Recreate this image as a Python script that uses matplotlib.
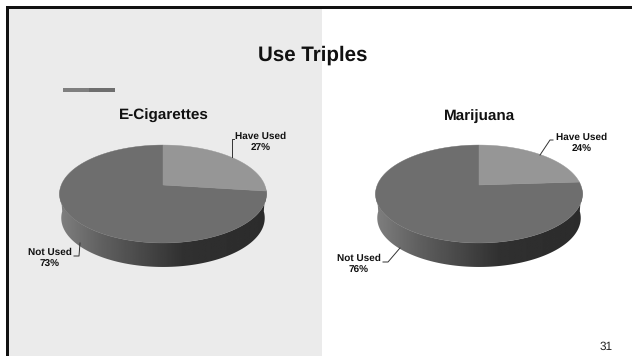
import numpy as np
import matplotlib
matplotlib.use('Agg')
import matplotlib.pyplot as plt
from matplotlib.patches import Polygon, Rectangle

title = 'Use Triples'
page_number = '31'
pie_titles = ['E-Cigarettes', 'Marijuana']
categories = ['Have Used', 'Not Used']
ecig_values = [27, 73]
marijuana_values = [24, 76]

W, H = 632, 356
TILT = 0.184   # fake perspective of the 3d pie


def project(theta, cx, cy=185, a=101.7, b=47.3, drop=0):
    # theta is clockwise from 12 o'clock
    u, v = np.sin(theta), np.cos(theta)
    scale = 1 + TILT * v
    return cx + a * u / scale, cy - b * v / scale + drop


def draw_pie(ax, values, cx, name, have_line, not_line, have_xy, not_xy):
    # side wall, shaded left to right
    t = np.linspace(np.pi / 2 + 0.05, 3 * np.pi / 2 - 0.05, 200)
    x1, y1 = project(t, cx)
    x2, y2 = project(t[::-1], cx, a=100, drop=24)
    wall = Polygon(np.column_stack([np.r_[x1, x2], np.r_[y1, y2]]), closed=True,
                   facecolor='none', edgecolor='none')
    ax.add_patch(wall)
    shade = np.interp(np.linspace(0, 1, 256), [0, 0.2, 0.6, 1], [0.50, 0.38, 0.19, 0.17])
    im = ax.imshow(shade[None, :], cmap='gray', vmin=0, vmax=1, aspect='auto',
                   extent=(cx - 104, cx + 104, 270, 185), zorder=2)
    im.set_clip_path(wall)

    # top faces
    have_end = 2 * np.pi * values[0] / sum(values)
    t = np.linspace(have_end, 2 * np.pi, 300)
    x, y = project(t, cx)
    ax.add_patch(Polygon(np.column_stack([np.r_[cx, x], np.r_[185, y]]), closed=True,
                         facecolor='#6e6e6e', edgecolor='#6e6e6e', lw=0.3, zorder=3))
    t = np.linspace(0, have_end, 120)
    x, y = project(t, cx)
    ax.add_patch(Polygon(np.column_stack([np.r_[cx, x], np.r_[185, y]]), closed=True,
                         facecolor='#969696', edgecolor='#969696', lw=0.3, zorder=3))

    ax.text(cx + 1, 116, name, ha='center', va='center', fontsize=11, fontweight='bold', color='#111111')

    # labels and leader lines
    ax.plot(*have_line, color='#333333', lw=0.7, zorder=4)
    ax.plot(*not_line, color='#333333', lw=0.7, zorder=4)
    ax.text(*have_xy, f'{categories[0]}\n{values[0]}%', ha='center', va='center', fontsize=7.2,
            fontweight='bold', color='#111111', linespacing=1.3)
    ax.text(*not_xy, f'{categories[1]}\n{values[1]}%', ha='center', va='center', fontsize=7.2,
            fontweight='bold', color='#111111', linespacing=1.3)


plt.rcParams['font.family'] = ['Liberation Sans', 'DejaVu Sans']
plt.rcParams['text.hinting'] = 'no_hinting'
fig = plt.figure(figsize=(W / 100, H / 100), dpi=100)
ax = fig.add_axes([0, 0, 1, 1])
ax.set_xlim(0, W)
ax.set_ylim(H, 0)
ax.axis('off')

# slide background and frame
ax.add_patch(Rectangle((8, 8), 314, H - 8, facecolor='#ebebeb', edgecolor='none', zorder=0))
ax.add_patch(Rectangle((6, 6), W - 6, 2.6, facecolor='#111111', edgecolor='none', zorder=1))
ax.add_patch(Rectangle((6, 6), 2.6, H - 6, facecolor='#111111', edgecolor='none', zorder=1))

# stray legend bar
ax.add_patch(Rectangle((63, 88), 26, 4, facecolor='#7f7f7f', edgecolor='none', zorder=1))
ax.add_patch(Rectangle((89, 88), 26, 4, facecolor='#6e6e6e', edgecolor='none', zorder=1))

ax.text(312.5, 55, title, ha='center', va='center', fontsize=14.8, fontweight='bold', color='#111111')
ax.text(606.5, 346.5, page_number, ha='center', va='center', fontsize=8.5, color='#222222')

draw_pie(ax, ecig_values, 163, pie_titles[0],
         ([232, 232, 234], [157, 139, 139]), ([74, 79, 80], [256, 256, 243]),
         (261, 142.5), (50, 258.5))
draw_pie(ax, marijuana_values, 479, pie_titles[1],
         ([540, 550, 553], [155, 140, 140]), ([383, 388, 400], [262, 262, 248]),
         (582, 143.5), (359, 264.5))

fig.savefig('out.png', dpi=100)
